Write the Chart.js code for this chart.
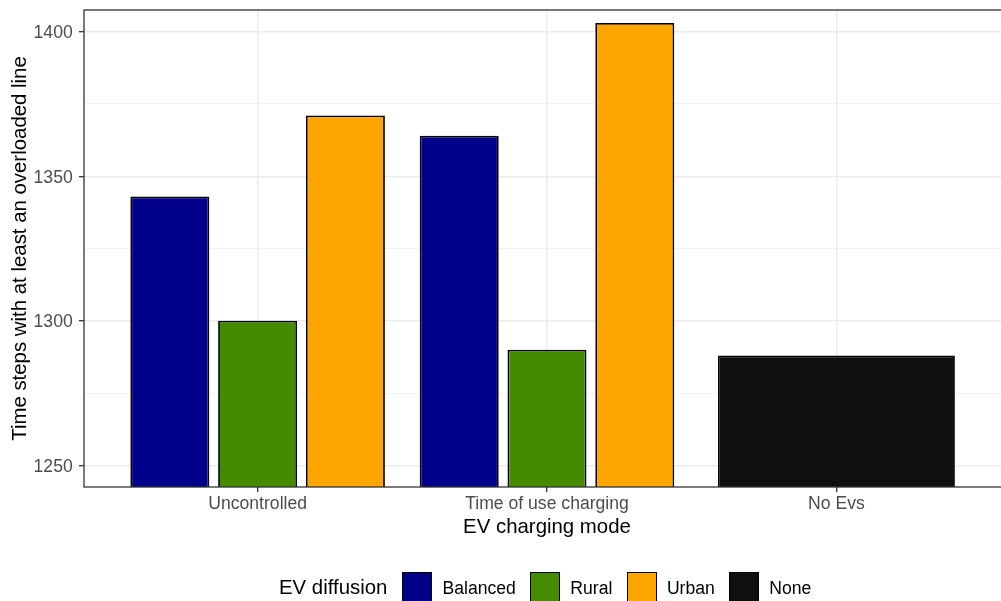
<!DOCTYPE html>
<html>
<head>
<meta charset="utf-8">
<script src="https://cdn.jsdelivr.net/npm/chart.js@4.4.1/dist/chart.umd.min.js"></script>
<style>
  html, body { margin: 0; padding: 0; background: #fff; overflow: hidden; }
  #wrap { position: relative; width: 1016px; height: 601px; }
  #leyenda { position: absolute; left: 279px; top: 572px; height: 30px; display: flex; align-items: center;
             font-family: 'Liberation Sans', Arial, sans-serif; color: #000; white-space: nowrap; }
  #leyenda .titulo { font-size: 20.4px; margin-right: 15px; }
  #leyenda .caja { width: 28px; height: 28px; border: 1px solid #000; margin-right: 10px; }
  #leyenda .texto { font-size: 17.6px; margin-right: 14.5px; padding-top: 3px; }
</style>
</head>
<body>
<div id="wrap">
  <canvas id="grafico" width="1016" height="601"></canvas>
  <div id="leyenda"></div>
</div>
<script>
// datos
const categorias = ['Uncontrolled', 'Time of use charging', 'No Evs'];
const posicionesX = [1, 2, 3];
const difusiones = ['Balanced', 'Rural', 'Urban', 'None'];
const valoresBalanced = [1343, 1364, null];
const valoresRural = [1300, 1290, null];
const valoresUrban = [1371, 1403, null];
const valoresNone = [null, null, 1288];
const colores = ['#00008B', '#458B00', '#FFA500', '#0F0F0F'];
const ticksY = [1250, 1275, 1300, 1325, 1350, 1375, 1400];

const series = [valoresBalanced, valoresRural, valoresUrban, valoresNone];
Chart.defaults.font.family = "'Liberation Sans', Arial, sans-serif";

const datasets = difusiones.map((nombre, i) => ({
  label: nombre,
  data: series[i].map((v, j) => ({ x: posicionesX[j], y: v })),
  backgroundColor: colores[i],
  borderColor: '#000',
  borderWidth: 1.8,
  borderSkipped: false,
  skipNull: true,
  categoryPercentage: 0.91,
  barPercentage: 0.9
}));

// borde del panel estilo theme_bw
const marcoPanel = {
  id: 'marcoPanel',
  afterDatasetsDraw(chart) {
    const { ctx, chartArea: a } = chart;
    ctx.save();
    ctx.strokeStyle = '#333333';
    ctx.lineWidth = 1.3;
    ctx.strokeRect(a.left, a.top, a.right - a.left, a.bottom - a.top);
    ctx.restore();
  }
};

const esMayor = c => c.tick && c.tick.value % 50 === 0;

new Chart(document.getElementById('grafico'), {
  type: 'bar',
  data: { datasets },
  options: {
    responsive: false,
    animation: false,
    devicePixelRatio: 1,
    layout: { padding: { top: 10, right: 6, bottom: 61.3, left: 0 } },
    plugins: { legend: { display: false }, tooltip: { enabled: false } },
    scales: {
      x: {
        type: 'linear',
        min: 0.4,
        max: 3.6,
        offset: false,
        afterBuildTicks: s => { s.ticks = posicionesX.map(v => ({ value: v })); },
        afterFit: s => { s.height = 52.7; s.paddingLeft = 0; s.paddingRight = 0; },
        ticks: {
          callback: v => categorias[v - 1],
          color: '#4D4D4D',
          font: { size: 17.6 },
          padding: 1.2,
          autoSkip: false,
          maxRotation: 0
        },
        grid: { offset: false, color: '#EBEBEB', lineWidth: 1.4, tickColor: '#333333', tickLength: 5, tickWidth: 1.3 },
        border: { display: false },
        title: { display: true, text: 'EV charging mode', color: '#000', font: { size: 20.4 }, padding: 0 }
      },
      y: {
        min: 1242.5,
        max: 1407.5,
        afterBuildTicks: s => { s.ticks = ticksY.map(v => ({ value: v })); },
        afterFit: s => { s.width = 84; s.paddingTop = 0; s.paddingBottom = 0; },
        ticks: {
          callback: v => (v % 50 === 0 ? String(v) : ''),
          color: '#4D4D4D',
          font: { size: 17.6 },
          padding: 6.3,
          labelOffset: 1.5
        },
        grid: {
          color: '#EBEBEB',
          lineWidth: c => (esMayor(c) ? 1.4 : 0.7),
          tickColor: c => (esMayor(c) ? '#333333' : 'rgba(0,0,0,0)'),
          tickLength: 5,
          tickWidth: 1.3
        },
        border: { display: false },
        title: {
          display: true,
          text: 'Time steps with at least an overloaded line',
          color: '#000',
          font: { size: 20.4 },
          padding: { top: 8, bottom: 0 }
        }
      }
    }
  },
  plugins: [marcoPanel]
});

// leyenda abajo, titulo a la izquierda como en ggplot
const leyenda = document.getElementById('leyenda');
leyenda.innerHTML = '<span class="titulo">EV diffusion</span>' +
  difusiones.map((n, i) => `<span class="caja" style="background:${colores[i]}"></span><span class="texto">${n}</span>`).join('');
</script>
</body>
</html>
